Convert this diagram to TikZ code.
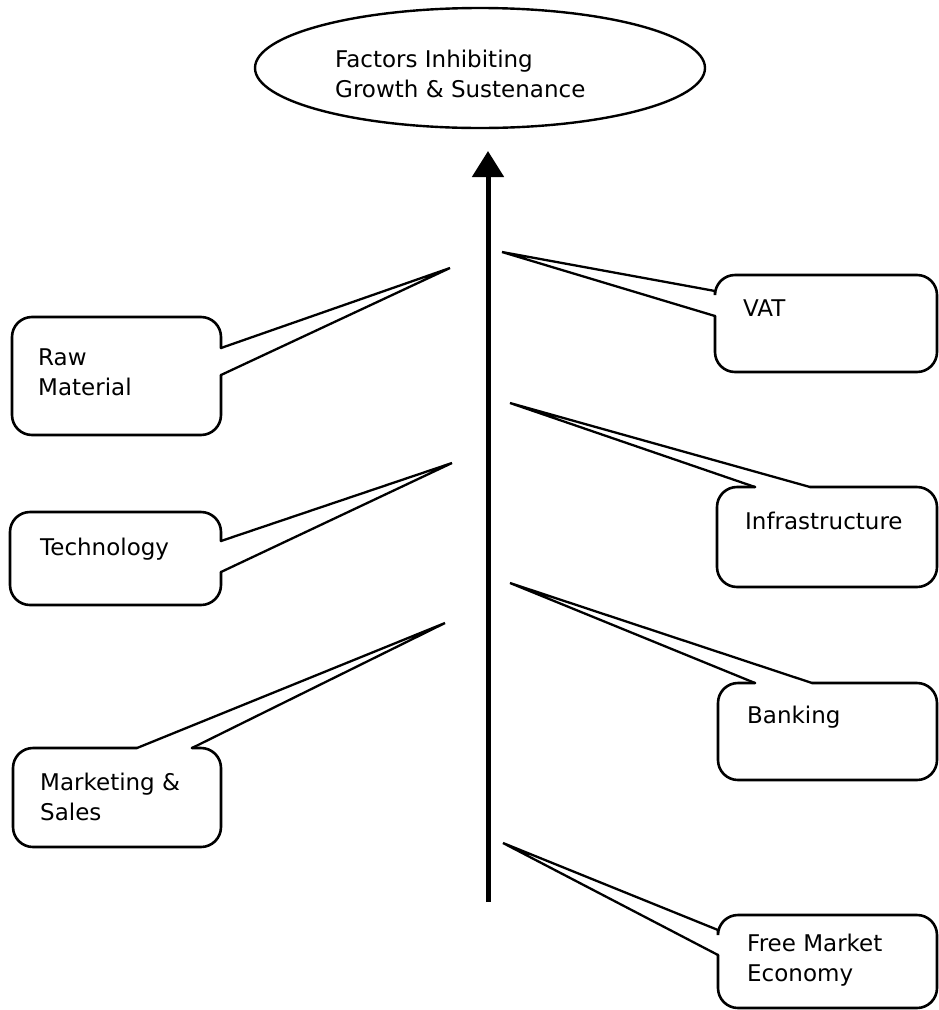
\documentclass[tikz,border=0pt]{standalone}
\usepackage{fontspec}
\setmainfont{DejaVu Sans}
\usetikzlibrary{shapes.geometric,arrows.meta,calc}
\tikzset{
  box/.style={inner sep=0pt, outer sep=0pt},
  outline/.style={line width=2.6pt, rounded corners=20pt, line cap=round},
  tail/.style={line width=2.3pt, line cap=round},
  lbl/.style={inner sep=0pt, align=left, anchor=west, font=\fontsize{23}{30}\selectfont},
}
\begin{document}
\begin{tikzpicture}[x=1pt, y=-1pt]
  \useasboundingbox[fill=white] (0,0) rectangle (939,1010);
  % Ziel oben
  \node[draw, ellipse, line width=2.4pt, minimum width=450pt, minimum height=120pt] (goal) at (480,68) {};
  \node[lbl] (goalT) at (335,74) {Factors Inhibiting\\Growth \& Sustenance};
  % Hauptpfeil
  \coordinate (arrBot) at (488,902);
  \coordinate (arrTop) at (488,151);
  \draw[line width=5pt, -{Triangle[width=31pt,length=26pt]}] (arrBot) -- (arrTop);

  % Kaesten links
  \node[box, minimum width=209pt, minimum height=118pt] (raw) at (116.5,376) {};
  \node[box, minimum width=211pt, minimum height=93pt] (tech) at (115.5,558.5) {};
  \node[box, minimum width=208pt, minimum height=99pt] (mkt) at (117,797.5) {};
  % Kaesten rechts
  \node[box, minimum width=222pt, minimum height=97pt] (vat) at (826,323.5) {};
  \node[box, minimum width=220pt, minimum height=100pt] (infra) at (827,537) {};
  \node[box, minimum width=219pt, minimum height=97pt] (bank) at (827.5,731.5) {};
  \node[box, minimum width=219pt, minimum height=93pt] (fme) at (827.5,961.5) {};

  % Texte
  \node[lbl] (rawT) at (38,372) {Raw\\Material};
  \node[lbl] (techT) at (40,549) {Technology};
  \node[lbl] (mktT) at (40,797) {Marketing \&\\Sales};
  \node[lbl] (vatT) at (743,308) {VAT};
  \node[lbl] (infraT) at (745,521) {Infrastructure};
  \node[lbl] (bankT) at (747,717) {Banking};
  \node[lbl] (fmeT) at (747,960) {Free Market\\Economy};

  % Spitzen am Pfeil
  \coordinate (rawTip) at (450,268);
  \coordinate (techTip) at (452,463);
  \coordinate (mktTip) at (445,623);
  \coordinate (vatTip) at (502,252);
  \coordinate (infraTip) at (510,403);
  \coordinate (bankTip) at (510,583);
  \coordinate (fmeTip) at (503,843);

  % Sprechblasen links
  \draw[outline] ($(raw.north east)+(0,31)$) -- (raw.north east) -- (raw.north west) -- (raw.south west) -- (raw.south east) -- ($(raw.north east)+(0,58)$);
  \draw[tail] ($(raw.north east)+(0,31)$) -- (rawTip) -- ($(raw.north east)+(0,58)$);
  \draw[outline] ($(tech.north east)+(0,29)$) -- (tech.north east) -- (tech.north west) -- (tech.south west) -- (tech.south east) -- ($(tech.north east)+(0,60)$);
  \draw[tail] ($(tech.north east)+(0,29)$) -- (techTip) -- ($(tech.north east)+(0,60)$);
  \draw[outline] ($(mkt.north west)+(179,0)$) -- (mkt.north east) -- (mkt.south east) -- (mkt.south west) -- (mkt.north west) -- ($(mkt.north west)+(124,0)$);
  \draw[tail] ($(mkt.north west)+(124,0)$) -- (mktTip) -- ($(mkt.north west)+(179,0)$);

  % Sprechblasen rechts
  \draw[outline] ($(vat.north west)+(0,16)$) -- (vat.north west) -- (vat.north east) -- (vat.south east) -- (vat.south west) -- ($(vat.north west)+(0,41)$);
  \draw[tail] ($(vat.north west)+(0,16)$) -- (vatTip) -- ($(vat.north west)+(0,41)$);
  \draw[outline] ($(infra.north west)+(38,0)$) -- (infra.north west) -- (infra.south west) -- (infra.south east) -- (infra.north east) -- ($(infra.north west)+(93,0)$);
  \draw[tail] ($(infra.north west)+(38,0)$) -- (infraTip) -- ($(infra.north west)+(93,0)$);
  \draw[outline] ($(bank.north west)+(37,0)$) -- (bank.north west) -- (bank.south west) -- (bank.south east) -- (bank.north east) -- ($(bank.north west)+(94,0)$);
  \draw[tail] ($(bank.north west)+(37,0)$) -- (bankTip) -- ($(bank.north west)+(94,0)$);
  \draw[outline] ($(fme.north west)+(0,15)$) -- (fme.north west) -- (fme.north east) -- (fme.south east) -- (fme.south west) -- ($(fme.north west)+(0,40)$);
  \draw[tail] ($(fme.north west)+(0,15)$) -- (fmeTip) -- ($(fme.north west)+(0,40)$);
\end{tikzpicture}
\end{document}
